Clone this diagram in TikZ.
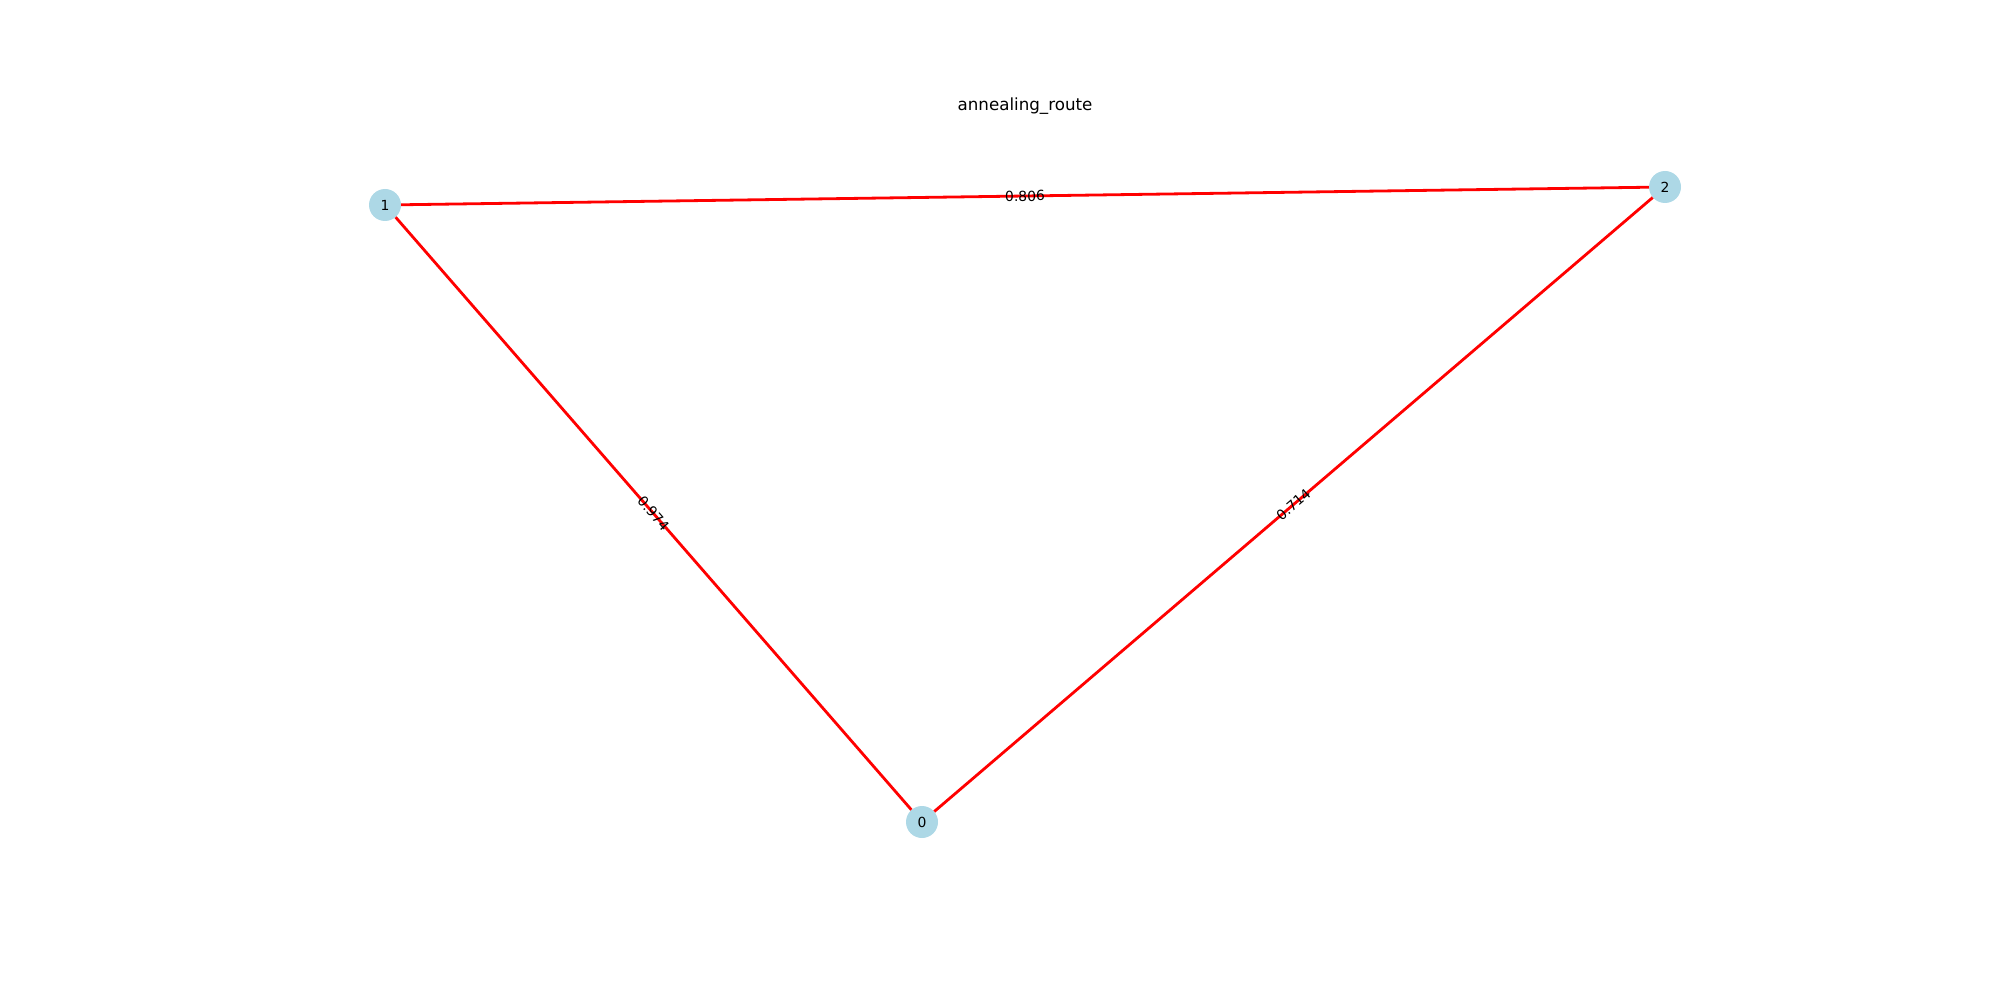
\documentclass[tikz,border=0pt]{standalone}
\usepackage{fontspec}
\setmainfont{DejaVu Sans}
\definecolor{nodeblue}{HTML}{ADD8E6}
\definecolor{edgered}{HTML}{FF0000}
\begin{document}
\begin{tikzpicture}[x=1pt,y=-1pt,
  vertex/.style={circle,fill=nodeblue,draw=none,minimum size=32pt,inner sep=0pt,font=\fontsize{13.9}{16}\selectfont},
  edge/.style={draw=edgered,line width=2.8pt},
  elabel/.style={sloped,pos=0.5,inner sep=0pt,font=\fontsize{13.9}{16}\selectfont}]
\useasboundingbox (0,0) rectangle (2000,1000);
\node[font=\fontsize{16.7}{20}\selectfont] (title) at (1025,106) {annealing\_route};
\node[vertex] (n0) at (922,822) {0};
\node[vertex] (n1) at (385,205) {1};
\node[vertex] (n2) at (1665,187) {2};
\draw[edge] (n1) -- node[elabel] {0.806} (n2);
\draw[edge] (n1) -- node[elabel] {0.974} (n0);
\draw[edge] (n0) -- node[elabel] {0.714} (n2);
\end{tikzpicture}
\end{document}
